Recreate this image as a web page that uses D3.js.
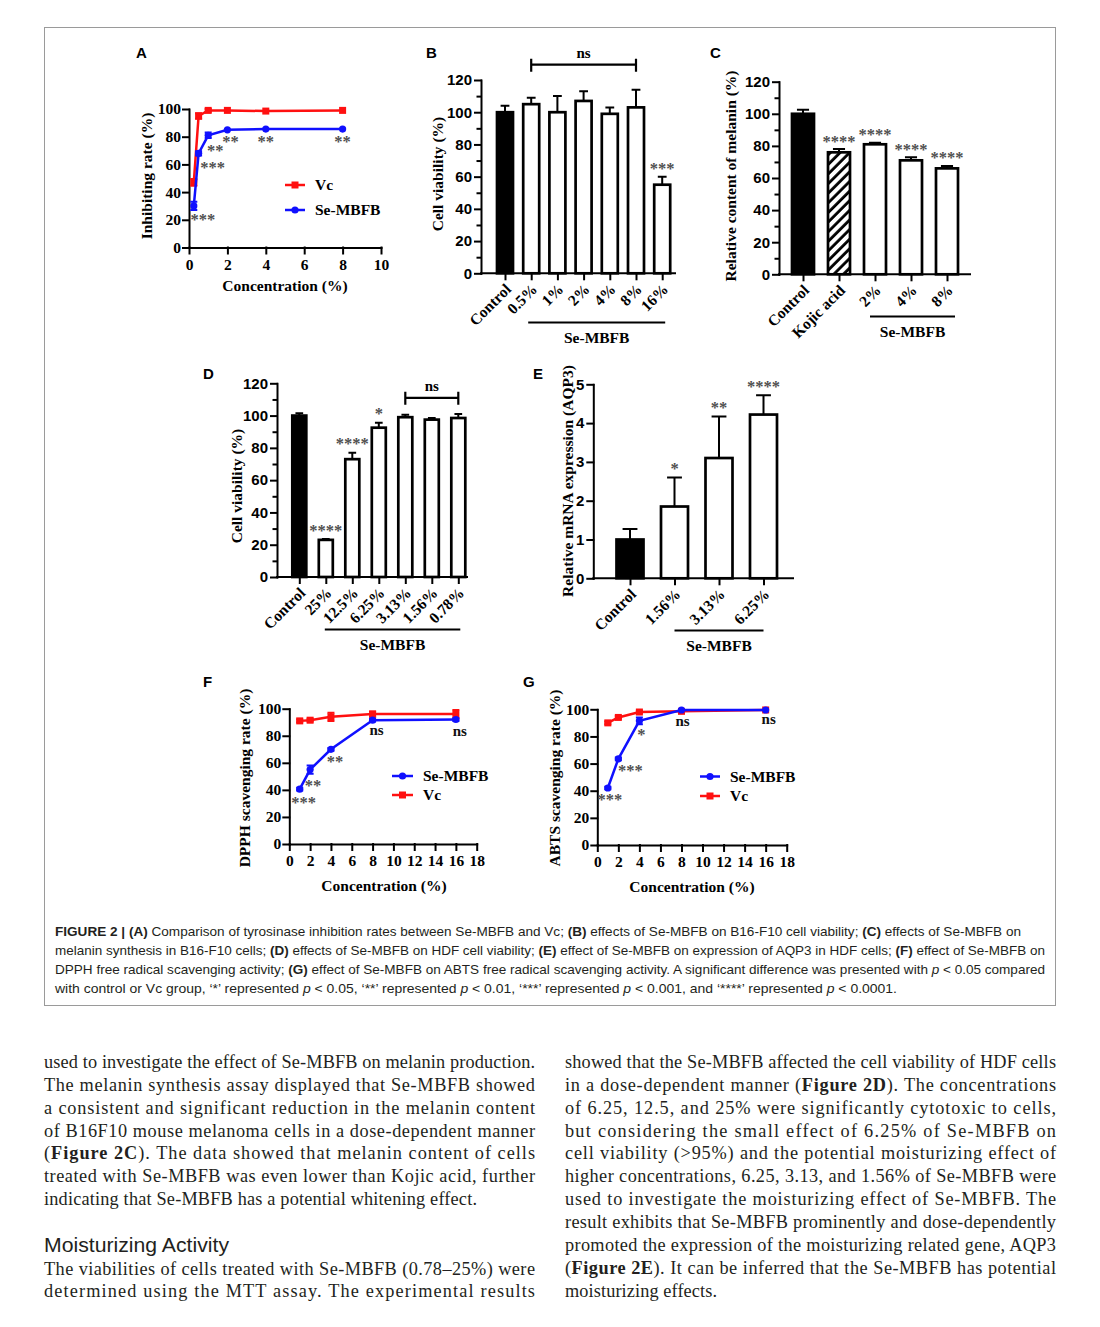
<!DOCTYPE html>
<html><head><meta charset="utf-8">
<script src="https://cdn.jsdelivr.net/npm/d3@7"></script>
<style>body{margin:0;background:#fff}svg{display:block}</style>
</head><body>
<svg id="fig" width="1100" height="1327"></svg>
<script>
// ---------------- DATA ----------------
// Panel A: tyrosinase inhibition
const concA = [0.25, 0.5, 1, 2, 4, 8];
const vcA = [47, 95, 99, 99, 98.5, 99];
const vcAErr = [2.5, 2, 1, 0.5, 0.5, 0.5];
const seA = [30, 68, 81, 85, 85.5, 85.5];
const seAErr = [3, 1.5, 2, 0.5, 0.5, 0.5];
const sigA = ["***", "***", "**", "**", "**", "**"];
const xTicksA = [0, 2, 4, 6, 8, 10];
const yTicks100 = [0, 20, 40, 60, 80, 100];

// Panel B: B16-F10 viability
const catsB = ["Control", "0.5%", "1%", "2%", "4%", "8%", "16%"];
const valsB = [100, 105, 100, 107, 99, 103, 55];
const errB = [4, 4, 10, 6, 4, 11, 5];
const sigB = ["", "", "", "", "", "", "***"];

// Panel C: melanin content
const catsC = ["Control", "Kojic acid", "2%", "4%", "8%"];
const valsC = [100, 76, 81, 71, 66];
const errC = [2.5, 2, 1, 2, 1.5];
const sigC = ["", "****", "****", "****", "****"];

// Panel D: HDF viability
const catsD = ["Control", "25%", "12.5%", "6.25%", "3.13%", "1.56%", "0.78%"];
const valsD = [100, 23, 73, 92.5, 99, 97.5, 98.5];
const errD = [1.5, 0.5, 4, 3, 1.5, 1, 2.5];
const sigD = ["", "****", "****", "*", "", "", ""];

// Panel E: AQP3 expression
const catsE = ["Control", "1.56%", "3.13%", "6.25%"];
const valsE = [1.0, 1.85, 3.1, 4.22];
const errE = [0.27, 0.75, 1.07, 0.5];
const sigE = ["", "*", "**", "****"];

const yTicks120 = [0, 20, 40, 60, 80, 100, 120];
const yMinor120 = [10, 30, 50, 70, 90, 110];
const yTicksE = [0, 1, 2, 3, 4, 5];

// Panel F: DPPH scavenging
const concF = [1, 2, 4, 8, 16];
const seF = [40.5, 55, 70, 91.5, 92];
const seFErr = [1, 3, 1, 1, 1];
const vcF = [91, 91.5, 94, 96, 96];
const vcFErr = [1, 1, 3, 2, 3];
const sigF = ["***", "**", "**", "ns", "ns"];

// Panel G: ABTS scavenging
const concG = [1, 2, 4, 8, 16];
const seG = [42, 63.5, 91.5, 99.5, 99.5];
const seGErr = [1, 1, 2.5, 0.5, 0.5];
const vcG = [90, 94, 98, 98.5, 99.5];
const vcGErr = [1, 1, 1, 1, 0.5];
const sigG = ["***", "***", "*", "ns", "ns"];
const xTicks18 = [0, 2, 4, 6, 8, 10, 12, 14, 16, 18];

// ---------------- DRAWING ----------------
const SERIF = "'Liberation Serif','Times New Roman',serif";
const SANS = "'Liberation Sans',Arial,Helvetica,sans-serif";
const RED = "#ff1010", BLUE = "#1010ff", GREY = "#4f4f4f", TXT = "#231f20";
const svg = d3.select("#fig");
svg.append("rect").attr("width", 1100).attr("height", 1327).attr("fill", "#fff");
svg.append("rect").attr("x", 44.5).attr("y", 27.5).attr("width", 1011).attr("height", 978)
  .attr("fill", "none").attr("stroke", "#9a9a9a").attr("stroke-width", 1);

const defs = svg.append("defs");
const pat = defs.append("pattern").attr("id", "hatch").attr("patternUnits", "userSpaceOnUse")
  .attr("width", 6.8).attr("height", 6.8).attr("patternTransform", "rotate(45)");
pat.append("rect").attr("width", 6.8).attr("height", 6.8).attr("fill", "#fff");
pat.append("line").attr("x1", 1.5).attr("y1", 0).attr("x2", 1.5).attr("y2", 6.8)
  .attr("stroke", "#000").attr("stroke-width", 2.8);

function styleAxis(g, font, fs) {
  g.selectAll("path,line").attr("stroke", "#000").attr("stroke-width", 2).attr("stroke-linecap", "square");
  g.selectAll("text").attr("font-family", font).attr("font-weight", "bold").attr("font-size", fs).attr("fill", "#000");
}
function panelLetter(t, x, y) {
  svg.append("text").attr("x", x).attr("y", y).text(t).attr("font-family", SANS)
    .attr("font-weight", "bold").attr("font-size", 15).attr("fill", "#000");
}
function yTitle(g, t, cx, cy, fs) {
  g.append("text").attr("transform", `translate(${cx},${cy}) rotate(-90)`).attr("dy", "0.35em")
    .attr("text-anchor", "middle").text(t).attr("font-family", SERIF).attr("font-weight", "bold")
    .attr("font-size", fs || 15.5).attr("fill", "#000");
}
function sigText(g, t, cx, cyCenter) {
  const isStar = t.indexOf("*") >= 0;
  g.append("text").attr("x", cx).attr("y", cyCenter + (isStar ? 8.5 : 4)).attr("text-anchor", "middle")
    .text(t).attr("font-family", SERIF).attr("font-weight", "bold")
    .attr("font-size", isStar ? 16.5 : 15).attr("fill", isStar ? GREY : "#111");
}

function barPanel(o) {
  const g = svg.append("g");
  const y = d3.scaleLinear().domain(o.yDomain).range([o.yBottom, o.yTop]);
  const x = d3.scalePoint().domain(o.cats).range([o.c0, o.c0 + o.step * (o.cats.length - 1)]);
  const idx = o.cats.map((c, i) => i);
  g.selectAll(".bar").data(idx).join("rect")
    .attr("x", i => x(o.cats[i]) - o.barW / 2).attr("y", i => y(o.vals[i]))
    .attr("width", o.barW).attr("height", i => y(0) - y(o.vals[i]))
    .attr("fill", i => o.fills[i]).attr("stroke", "#000").attr("stroke-width", 2.7);
  const capW = o.barW * 0.55;
  g.selectAll(".eb").data(idx).join("path")
    .attr("d", i => {
      const cx = x(o.cats[i]), y1 = y(o.vals[i]), y2 = y(o.vals[i] + o.errs[i]);
      return `M${cx},${y1}V${y2}M${cx - capW / 2},${y2}H${cx + capW / 2}`;
    }).attr("stroke", "#000").attr("stroke-width", 2).attr("fill", "none");
  // y axis
  const ya = g.append("g").attr("transform", `translate(${o.axisX},0)`)
    .call(d3.axisLeft(y).tickValues(o.yTicks).tickSize(6).tickSizeOuter(0).tickPadding(3).tickFormat(d3.format("d")));
  styleAxis(ya, SANS, 15);
  if (o.minor) {
    const ym = g.append("g").attr("transform", `translate(${o.axisX},0)`)
      .call(d3.axisLeft(y).tickValues(o.minor).tickSize(3.5).tickSizeOuter(0).tickFormat(""));
    ym.select(".domain").remove();
    styleAxis(ym, SANS, 15);
  }
  // x axis
  const xa = g.append("g").attr("transform", `translate(0,${o.yBottom})`)
    .call(d3.axisBottom(x).tickSize(6).tickFormat(""));
  xa.select(".domain").remove();
  styleAxis(xa, SERIF, 15.5);
  g.append("line").attr("x1", o.axisX).attr("x2", o.axisEnd).attr("y1", o.yBottom).attr("y2", o.yBottom)
    .attr("stroke", "#000").attr("stroke-width", 2).attr("stroke-linecap", "square");
  // category labels
  g.selectAll(".cl").data(idx).join("text")
    .attr("transform", i => `translate(${x(o.cats[i]) + 7},${o.yBottom + 17}) rotate(-45)`)
    .attr("text-anchor", "end").text(i => o.cats[i])
    .attr("font-family", SERIF).attr("font-weight", "bold").attr("font-size", 15.5).attr("fill", "#000");
  // significance
  idx.forEach(i => {
    if (o.sig[i]) sigText(g, o.sig[i], x(o.cats[i]), y(o.vals[i] + o.errs[i]) - o.sigGap);
  });
  // ns bracket
  if (o.ns) {
    const xa1 = x(o.cats[o.ns.from]), xa2 = x(o.cats[o.ns.to]), yb = y(o.ns.value);
    g.append("path").attr("d", `M${xa1},${yb - 6}V${yb + 7}M${xa1},${yb}H${xa2}M${xa2},${yb - 6}V${yb + 7}`)
      .attr("stroke", "#000").attr("stroke-width", 2.2).attr("fill", "none");
    g.append("text").attr("x", (xa1 + xa2) / 2).attr("y", yb - 7).attr("text-anchor", "middle").text("ns")
      .attr("font-family", SERIF).attr("font-weight", "bold").attr("font-size", 15).attr("fill", "#000");
  }
  // group line
  const gx1 = x(o.cats[o.group.from]) - o.group.pad1, gx2 = x(o.cats[o.group.to]) + o.group.pad2;
  g.append("line").attr("x1", gx1).attr("x2", gx2).attr("y1", o.group.y).attr("y2", o.group.y)
    .attr("stroke", "#000").attr("stroke-width", 2);
  g.append("text").attr("x", (gx1 + gx2) / 2).attr("y", o.group.y + 20).attr("text-anchor", "middle")
    .text("Se-MBFB").attr("font-family", SERIF).attr("font-weight", "bold").attr("font-size", 15.5).attr("fill", "#000");
  yTitle(g, o.yLabel, o.yLabelX, o.yLabelY, o.yLabelFs);
}

function marker(g, shape, color, cx, cy) {
  if (shape === "square") {
    g.append("rect").attr("x", cx - 3.5).attr("y", cy - 3.5).attr("width", 7).attr("height", 7).attr("fill", color);
  } else {
    g.append("circle").attr("cx", cx).attr("cy", cy).attr("r", 3.6).attr("fill", color);
  }
}

function linePanel(o) {
  const g = svg.append("g");
  const x = d3.scaleLinear().domain(o.xDomain).range([o.xLeft, o.xRight]);
  const y = d3.scaleLinear().domain([0, 100]).range([o.yBottom, o.yTop]);
  const ya = g.append("g").attr("transform", `translate(${o.xLeft},0)`)
    .call(d3.axisLeft(y).tickValues(yTicks100).tickSize(6).tickSizeOuter(0).tickPadding(2));
  styleAxis(ya, SERIF, 15.5);
  const xa = g.append("g").attr("transform", `translate(0,${o.yBottom})`)
    .call(d3.axisBottom(x).tickValues(o.xTicks).tickSize(6).tickSizeOuter(0).tickPadding(5));
  styleAxis(xa, SERIF, 15.5);
  const line = d3.line().x(d => x(d[0])).y(d => y(d[1]));
  o.series.forEach(s => {
    const pts = o.conc.map((c, i) => [c, s.vals[i]]);
    g.append("path").attr("d", line(pts)).attr("fill", "none").attr("stroke", s.color).attr("stroke-width", 2.5);
    o.conc.forEach((c, i) => {
      const cx = x(c), e = s.errs[i];
      if (e > 0.6) {
        const y1 = y(s.vals[i] - e), y2 = y(s.vals[i] + e);
        g.append("path").attr("d", `M${cx},${y1}V${y2}M${cx - 3.5},${y1}H${cx + 3.5}M${cx - 3.5},${y2}H${cx + 3.5}`)
          .attr("stroke", s.color).attr("stroke-width", 2).attr("fill", "none");
      }
      marker(g, s.shape, s.color, cx, y(s.vals[i]));
    });
  });
  // significance labels
  o.conc.forEach((c, i) => {
    const off = o.sigOff[i];
    sigText(g, o.sig[i], x(c) + off[0], y(o.sigRef[i]) + off[1]);
  });
  // legend
  o.legend.forEach((L, k) => {
    const ly = o.legendY[k];
    g.append("line").attr("x1", o.legendX1).attr("x2", o.legendX2).attr("y1", ly).attr("y2", ly)
      .attr("stroke", L.color).attr("stroke-width", 2.5);
    marker(g, L.shape, L.color, (o.legendX1 + o.legendX2) / 2, ly);
    g.append("text").attr("x", o.legendX2 + 10).attr("y", ly + 5).text(L.name)
      .attr("font-family", SERIF).attr("font-weight", "bold").attr("font-size", 15.5).attr("fill", "#000");
  });
  g.append("text").attr("x", o.xTitleX).attr("y", o.xTitleY).attr("text-anchor", "middle").text("Concentration (%)")
    .attr("font-family", SERIF).attr("font-weight", "bold").attr("font-size", 15.5).attr("fill", "#000");
  yTitle(g, o.yLabel, o.yLabelX, o.yLabelY);
}

// ---- Panel A ----
panelLetter("A", 136, 58);
linePanel({
  conc: concA, xDomain: [0, 10], xTicks: xTicksA, xLeft: 189, xRight: 381, yBottom: 247.5, yTop: 109,
  series: [
    { vals: vcA, errs: vcAErr, color: RED, shape: "square" },
    { vals: seA, errs: seAErr, color: BLUE, shape: "circle" }
  ],
  sig: sigA, sigRef: seA,
  sigOff: [[9, 11], [14, 11], [7, 12], [3, 9], [0, 9], [0, 9]],
  legend: [{ name: "Vc", color: RED, shape: "square" }, { name: "Se-MBFB", color: BLUE, shape: "circle" }],
  legendX1: 285, legendX2: 305, legendY: [185, 210],
  xTitleX: 285, xTitleY: 291, yLabel: "Inhibiting rate (%)", yLabelX: 147, yLabelY: 176
});

// ---- Panel B ----
panelLetter("B", 426, 58);
barPanel({
  cats: catsB, vals: valsB, errs: errB, sig: sigB, fills: ["#000", "#fff", "#fff", "#fff", "#fff", "#fff", "#fff"],
  yDomain: [0, 120], yTicks: yTicks120, minor: yMinor120, yBottom: 273.3, yTop: 80,
  axisX: 481, axisEnd: 675, c0: 505, step: 26.2, barW: 16, sigGap: 11,
  ns: { from: 1, to: 5, value: 129.5 },
  group: { from: 1, to: 6, pad1: 3, pad2: 3, y: 322.5 },
  yLabel: "Cell viability (%)", yLabelX: 438, yLabelY: 174
});

// ---- Panel C ----
panelLetter("C", 710, 58);
barPanel({
  cats: catsC, vals: valsC, errs: errC, sig: sigC, fills: ["#000", "url(#hatch)", "#fff", "#fff", "#fff"],
  yDomain: [0, 120], yTicks: yTicks120, minor: yMinor120, yBottom: 274.3, yTop: 81.7,
  axisX: 779, axisEnd: 970, c0: 803, step: 36, barW: 22, sigGap: 11,
  group: { from: 2, to: 4, pad1: 5, pad2: 8, y: 316.5 },
  yLabel: "Relative content of melanin (%)", yLabelX: 731, yLabelY: 176
});

// ---- Panel D ----
panelLetter("D", 203, 379);
barPanel({
  cats: catsD, vals: valsD, errs: errD, sig: sigD, fills: ["#000", "#fff", "#fff", "#fff", "#fff", "#fff", "#fff"],
  yDomain: [0, 120], yTicks: yTicks120, minor: yMinor120, yBottom: 577, yTop: 383.3,
  axisX: 277, axisEnd: 467, c0: 299.3, step: 26.5, barW: 14, sigGap: 12,
  ns: { from: 4, to: 6, value: 111 },
  group: { from: 1, to: 6, pad1: 1, pad2: 2, y: 629.5 },
  yLabel: "Cell viability (%)", yLabelX: 237, yLabelY: 486
});

// ---- Panel E ----
panelLetter("E", 533, 379);
barPanel({
  cats: catsE, vals: valsE, errs: errE, sig: sigE, fills: ["#000", "#fff", "#fff", "#fff"],
  yDomain: [0, 5], yTicks: yTicksE, minor: null, yBottom: 578.3, yTop: 384.3,
  axisX: 593.3, axisEnd: 793, c0: 630, step: 44.5, barW: 27, sigGap: 12,
  group: { from: 1, to: 3, pad1: 0, pad2: 0, y: 630.5 },
  yLabel: "Relative mRNA expression (AQP3)", yLabelX: 568, yLabelY: 481
});

// ---- Panel F ----
panelLetter("F", 203, 687);
linePanel({
  conc: concF, xDomain: [0, 18], xTicks: xTicks18, xLeft: 289.3, xRight: 476.7, yBottom: 844, yTop: 708.7,
  series: [
    { vals: vcF, errs: vcFErr, color: RED, shape: "square" },
    { vals: seF, errs: seFErr, color: BLUE, shape: "circle" }
  ],
  sig: sigF, sigRef: seF,
  sigOff: [[4, 10], [3, 13], [4, 9], [4, 11], [4, 12]],
  legend: [{ name: "Se-MBFB", color: BLUE, shape: "circle" }, { name: "Vc", color: RED, shape: "square" }],
  legendX1: 392, legendX2: 413, legendY: [776, 795],
  xTitleX: 384, xTitleY: 891, yLabel: "DPPH scavenging rate (%)", yLabelX: 245, yLabelY: 778
});

// ---- Panel G ----
panelLetter("G", 523, 687);
linePanel({
  conc: concG, xDomain: [0, 18], xTicks: xTicks18, xLeft: 597.3, xRight: 786.7, yBottom: 845, yTop: 709.3,
  series: [
    { vals: vcG, errs: vcGErr, color: RED, shape: "square" },
    { vals: seG, errs: seGErr, color: BLUE, shape: "circle" }
  ],
  sig: sigG, sigRef: seG,
  sigOff: [[2, 8], [12, 9], [2, 11], [1, 12], [3, 10]],
  legend: [{ name: "Se-MBFB", color: BLUE, shape: "circle" }, { name: "Vc", color: RED, shape: "square" }],
  legendX1: 700, legendX2: 720, legendY: [776.5, 796],
  xTitleX: 692, xTitleY: 892, yLabel: "ABTS scavenging rate (%)", yLabelX: 555, yLabelY: 778
});

// ---------------- CAPTION ----------------
function richLine(x, y, segs, len, font, fs, adjust, color) {
  const t = svg.append("text").attr("x", x).attr("y", y).attr("font-family", font).attr("font-size", fs)
    .attr("fill", color).attr("xml:space", "preserve");
  if (len) t.attr("textLength", len).attr("lengthAdjust", adjust);
  segs.forEach(s => {
    const sp = t.append("tspan").text(s[0]);
    if (s[1] === "b") sp.attr("font-weight", "bold");
    if (s[1] === "i") sp.attr("font-style", "italic");
  });
}
const capLines = [
  [["FIGURE 2 | ", "b"], ["(A)", "b"], [" Comparison of tyrosinase inhibition rates between Se-MBFB and Vc; "], ["(B)", "b"], [" effects of Se-MBFB on B16-F10 cell viability; "], ["(C)", "b"], [" effects of Se-MBFB on"]],
  [["melanin synthesis in B16-F10 cells; "], ["(D)", "b"], [" effects of Se-MBFB on HDF cell viability; "], ["(E)", "b"], [" effect of Se-MBFB on expression of AQP3 in HDF cells; "], ["(F)", "b"], [" effect of Se-MBFB on"]],
  [["DPPH free radical scavenging activity; "], ["(G)", "b"], [" effect of Se-MBFB on ABTS free radical scavenging activity. A significant difference was presented with "], ["p", "i"], [" < 0.05 compared"]],
  [["with control or Vc group, \u2018*\u2019 represented "], ["p", "i"], [" < 0.05, \u2018**\u2019 represented "], ["p", "i"], [" < 0.01, \u2018***\u2019 represented "], ["p", "i"], [" < 0.001, and \u2018****\u2019 represented "], ["p", "i"], [" < 0.0001."]]
];
const capLens = [966, 990, 990, 842];
capLines.forEach((segs, k) => richLine(55, 936 + 19 * k, segs, capLens[k], SANS, 13.5, "spacingAndGlyphs", TXT));

// ---------------- BODY TEXT ----------------
const leftLines = [
  [["used to investigate the effect of Se-MBFB on melanin production."]],
  [["The melanin synthesis assay displayed that Se-MBFB showed"]],
  [["a consistent and significant reduction in the melanin content"]],
  [["of B16F10 mouse melanoma cells in a dose-dependent manner"]],
  [["("], ["Figure 2C", "b"], ["). The data showed that melanin content of cells"]],
  [["treated with Se-MBFB was even lower than Kojic acid, further"]],
  [["indicating that Se-MBFB has a potential whitening effect."]]
];
const leftLens = [491, 491, 491, 491, 491, 491, 433];
leftLines.forEach((segs, k) => richLine(44, 1068 + 22.85 * k, segs, leftLens[k], SERIF, 18.3, "spacing", TXT));
svg.append("text").attr("x", 44).attr("y", 1251.5).text("Moisturizing Activity").attr("font-family", SANS)
  .attr("font-size", 19.5).attr("fill", TXT).attr("textLength", 185).attr("lengthAdjust", "spacingAndGlyphs");
const left2 = [
  [["The viabilities of cells treated with Se-MBFB (0.78\u201325%) were"]],
  [["determined using the MTT assay. The experimental results"]]
];
left2.forEach((segs, k) => richLine(44, 1274.5 + 22.85 * k, segs, 491, SERIF, 18.3, "spacing", TXT));

const rightLines = [
  [["showed that the Se-MBFB affected the cell viability of HDF cells"]],
  [["in a dose-dependent manner ("], ["Figure 2D", "b"], ["). The concentrations"]],
  [["of 6.25, 12.5, and 25% were significantly cytotoxic to cells,"]],
  [["but considering the small effect of 6.25% of Se-MBFB on"]],
  [["cell viability (>95%) and the potential moisturizing effect of"]],
  [["higher concentrations, 6.25, 3.13, and 1.56% of Se-MBFB were"]],
  [["used to investigate the moisturizing effect of Se-MBFB. The"]],
  [["result exhibits that Se-MBFB prominently and dose-dependently"]],
  [["promoted the expression of the moisturizing related gene, AQP3"]],
  [["("], ["Figure 2E", "b"], ["). It can be inferred that the Se-MBFB has potential"]],
  [["moisturizing effects."]]
];
rightLines.forEach((segs, k) => richLine(565, 1068 + 22.85 * k, segs, k === 10 ? 152 : 491, SERIF, 18.3, "spacing", TXT));
</script>
</body></html>
